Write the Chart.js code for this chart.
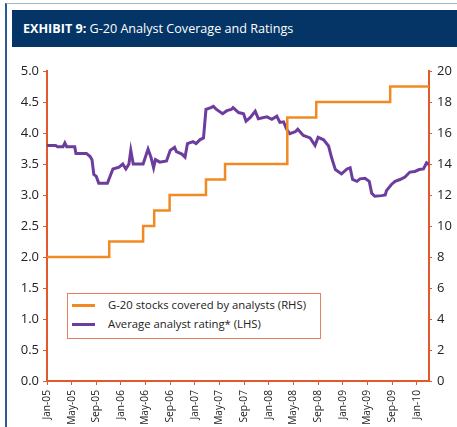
<!DOCTYPE html>
<html>
<head>
<meta charset="utf-8">
<script src="https://cdn.jsdelivr.net/npm/chart.js@4/dist/chart.umd.min.js"></script>
<style>
  body { margin: 0; background: #fff; font-family: "Open Sans", sans-serif; }
  #frame { position: absolute; left: 5px; top: 3px; width: 460px; height: 430px;
           border-left: 2px solid #2b5a8f; border-top: 1px solid #9fb4cc; }
  #head { position: absolute; left: 12px; top: 10px; width: 445px; height: 37px;
          background: #053566; color: #fff; font-size: 12.6px; line-height: 37px;
          padding-left: 11px; box-sizing: border-box; white-space: nowrap; }
  #head b { font-weight: 700; }
  #legend { position: absolute; left: 67px; top: 293px; width: 254px; height: 46px;
            border: 1px solid #e8805f; box-sizing: border-box; background: #fff;
            font-size: 11.3px; color: #222; }
  .item { position: absolute; left: 4px; height: 14px; line-height: 14px; white-space: nowrap; }
  .item span { display: inline-block; width: 23px; height: 3px; vertical-align: middle; margin-right: 13px; }
  #wrap { position: absolute; left: 0; top: 0; }
</style>
</head>
<body>
<div id="frame"></div>
<div id="head"><b>EXHIBIT 9:</b> G-20 Analyst Coverage and Ratings</div>
<div id="wrap"><canvas id="chart" width="457" height="427"></canvas></div>
<div id="legend">
  <div class="item" style="top:4px"><span style="background:#f28a24"></span>G-20 stocks covered by analysts (RHS)</div>
  <div class="item" style="top:23px"><span style="background:#6d3d9e"></span>Average analyst rating* (LHS)</div>
</div>
<script>
"use strict";

// x axis: months since Jan-05
const xLabels = ["Jan-05", "May-05", "Sep-05", "Jan-06", "May-06", "Sep-06", "Jan-07", "May-07",
  "Sep-07", "Jan-08", "May-08", "Sep-08", "Jan-09", "May-09", "Sep-09", "Jan-10"];

// G-20 stocks covered (RHS), changes as steps
const coverageMonth = [0, 10.1, 15.6, 17.4, 19.9, 25.8, 28.9, 39, 43.7, 55.7, 62];
const coverageCount = [8, 9, 10, 11, 12, 13, 14, 17, 18, 19, 19];

// average analyst rating (LHS)
const ratingMonth = [0, 1.4, 1.7, 2.6, 2.9, 3.2, 4.5, 4.7, 6.4, 7.0, 7.3, 7.6, 8.0, 8.4, 9.8,
  10.7, 11.7, 12.3, 12.8, 13.3, 13.6, 14.0, 15.6, 16.4, 16.9, 17.3, 17.6, 18.3, 19.4, 20.0,
  20.7, 21.0, 21.9, 22.4, 22.8, 23.7, 24.2, 24.8, 25.4, 25.8, 26.6, 27.0, 27.5, 28.5, 29.2,
  29.9, 30.2, 31.1, 31.9, 32.3, 33.0, 33.8, 34.3, 35.7, 36.5, 37.3, 37.8, 38.4, 38.9, 39.4,
  40.3, 40.7, 41.6, 42.7, 43.5, 44.0, 44.9, 45.7, 46.2, 46.8, 47.8, 48.7, 49.2, 49.6, 50.3,
  50.8, 51.6, 52.3, 52.7, 53.2, 54.3, 54.9, 55.1, 55.9, 56.5, 57.3, 58.1, 58.9, 59.7, 60.4,
  61.1, 61.6, 62.0];
const ratingValue = [3.80, 3.80, 3.78, 3.78, 3.84, 3.78, 3.78, 3.67, 3.67, 3.62, 3.57, 3.33, 3.30, 3.19, 3.19,
  3.42, 3.45, 3.50, 3.42, 3.50, 3.72, 3.50, 3.50, 3.74, 3.60, 3.44, 3.57, 3.53, 3.55, 3.72,
  3.77, 3.70, 3.66, 3.61, 3.83, 3.86, 3.83, 3.89, 3.92, 4.38, 4.41, 4.43, 4.38, 4.31, 4.36,
  4.38, 4.41, 4.33, 4.31, 4.19, 4.25, 4.35, 4.23, 4.26, 4.22, 4.27, 4.17, 4.18, 4.06, 3.99,
  4.02, 4.06, 3.96, 3.92, 3.80, 3.93, 3.89, 3.79, 3.60, 3.41, 3.34, 3.42, 3.44, 3.25, 3.22,
  3.26, 3.27, 3.22, 3.03, 2.98, 2.99, 3.00, 3.07, 3.17, 3.22, 3.25, 3.29, 3.37, 3.38, 3.41,
  3.42, 3.52, 3.49];

const axisColor = "#e2592b";
const tickFont = { family: "Open Sans", size: 13 };

new Chart(document.getElementById("chart"), {
  type: "line",
  data: {
    datasets: [
      {
        label: "G-20 stocks covered by analysts (RHS)",
        data: coverageMonth.map((m, i) => ({ x: m, y: coverageCount[i] })),
        yAxisID: "yR",
        borderColor: "#f28a24",
        borderWidth: 2.5,
        stepped: "before",
        pointRadius: 0
      },
      {
        label: "Average analyst rating* (LHS)",
        data: ratingMonth.map((m, i) => ({ x: m, y: ratingValue[i] })),
        yAxisID: "yL",
        borderColor: "#6d3d9e",
        borderWidth: 3,
        tension: 0,
        pointRadius: 0
      }
    ]
  },
  options: {
    responsive: false,
    animation: false,
    layout: { padding: { top: 71, left: 0, right: 0, bottom: 0 } },
    plugins: { legend: { display: false }, tooltip: { enabled: false } },
    scales: {
      x: {
        type: "linear",
        min: 0,
        max: 62,
        afterFit: function (s) { s.height = 46; },
        border: { color: axisColor, width: 2 },
        grid: { drawOnChartArea: false, color: axisColor, tickLength: 4 },
        ticks: {
          stepSize: 4,
          includeBounds: false,
          autoSkip: false,
          minRotation: 90,
          maxRotation: 90,
          padding: 5,
          color: "#222",
          font: { family: "Open Sans", size: 10.2 },
          callback: function (v) { return xLabels[v / 4]; }
        }
      },
      yL: {
        position: "left",
        min: 0,
        max: 5,
        afterFit: function (s) { s.width = 47; },
        border: { color: axisColor, width: 2 },
        grid: { drawOnChartArea: false, color: axisColor, tickLength: 4 },
        ticks: {
          stepSize: 0.5,
          padding: 4,
          color: "#222",
          font: tickFont,
          callback: function (v) { return v.toFixed(1); }
        }
      },
      yR: {
        position: "right",
        min: 0,
        max: 20,
        afterFit: function (s) { s.width = 28; },
        border: { color: axisColor, width: 2 },
        grid: { drawOnChartArea: false, color: axisColor, tickLength: 3 },
        ticks: { stepSize: 2, padding: 5, color: "#222", font: tickFont }
      }
    }
  }
});
</script>
</body>
</html>
